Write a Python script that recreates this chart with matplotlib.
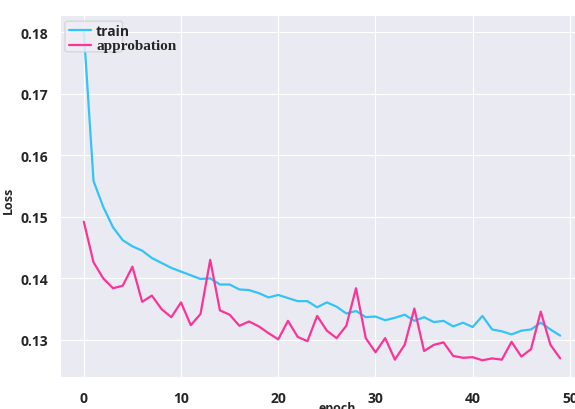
import matplotlib

matplotlib.use("Agg")
import matplotlib.pyplot as plt
import seaborn as sns
from matplotlib.patches import FancyBboxPatch

# loss per epoch
EPOCHS = list(range(50))
TRAIN_LOSS = [
    0.1801, 0.1558, 0.1516, 0.1483, 0.1462, 0.1452, 0.1445, 0.1433, 0.1425, 0.1417,
    0.1411, 0.1405, 0.1399, 0.1400, 0.1390, 0.1390, 0.1382, 0.1381, 0.1376, 0.1369,
    0.1373, 0.1368, 0.1363, 0.1363, 0.1353, 0.1361, 0.1354, 0.1343, 0.1347, 0.1337,
    0.1338, 0.1332, 0.1336, 0.1341, 0.1331, 0.1337, 0.1329, 0.1331, 0.1322, 0.1328,
    0.1321, 0.1339, 0.1317, 0.1314, 0.1309, 0.1315, 0.1317, 0.1328, 0.1317, 0.1307,
]
APPROBATION_LOSS = [
    0.1492, 0.1426, 0.1400, 0.1384, 0.1388, 0.1419, 0.1362, 0.1372, 0.1350, 0.1337,
    0.1361, 0.1324, 0.1342, 0.1430, 0.1348, 0.1341, 0.1323, 0.1330, 0.1322, 0.1311,
    0.1301, 0.1331, 0.1305, 0.1298, 0.1339, 0.1315, 0.1303, 0.1323, 0.1384, 0.1303,
    0.1280, 0.1303, 0.1268, 0.1292, 0.1351, 0.1282, 0.1292, 0.1296, 0.1274, 0.1271,
    0.1272, 0.1267, 0.1270, 0.1268, 0.1297, 0.1273, 0.1285, 0.1346, 0.1292, 0.1270,
]
X_TICKS = [0, 10, 20, 30, 40, 50]
Y_TICKS = [0.13, 0.14, 0.15, 0.16, 0.17, 0.18]

sns.set_style("darkgrid")
plt.rcParams["font.family"] = ["Open Sans", "DejaVu Sans"]

fig = plt.figure(figsize=(5.75, 4.10), dpi=100)
ax = fig.add_axes([60 / 575, 32.3 / 410, 524 / 575, 361.7 / 410])

ax.plot(EPOCHS, TRAIN_LOSS, color="#33c3f7", lw=1.6, label="train")
ax.plot(EPOCHS, APPROBATION_LOSS, color="#fb3497", lw=1.6, label="approbation")

ax.set_xticks(X_TICKS)
ax.set_yticks(Y_TICKS)
ax.set_yticklabels([f"{v:.2f}" for v in Y_TICKS])
ax.tick_params(axis="x", pad=7, labelsize=10)
ax.tick_params(axis="y", pad=5, labelsize=10)
for lab in ax.get_xticklabels() + ax.get_yticklabels():
    lab.set_fontweight("bold")

ax.set_xlabel("epoch", fontsize=9, fontweight="bold")
ax.xaxis.set_label_coords(0.53, -0.068)
ax.set_ylabel("Loss", fontsize=9, fontweight="bold")
ax.yaxis.set_label_coords(-0.087, 0.49)

# legend: frame only wraps the short label, like the original
leg = ax.legend(loc="upper left", frameon=False, fontsize=10,
                handlelength=1.6, borderaxespad=0.25, handletextpad=0.35,
                labelspacing=0.1)
texts = leg.get_texts()
texts[0].set_fontweight("bold")
texts[1].set_family(["Liberation Serif"])
texts[1].set_fontweight("bold")
texts[1].set_fontsize(11)
box = FancyBboxPatch((0.0095, 0.898), 0.11, 0.085, transform=ax.transAxes,
                     boxstyle="round,pad=0,rounding_size=0.006",
                     facecolor="#eeeef4", edgecolor="#cfcfd6", alpha=0.85,
                     lw=0.9, zorder=4)
ax.add_patch(box)
leg.set_zorder(5)

fig.savefig("out.png", dpi=100)
